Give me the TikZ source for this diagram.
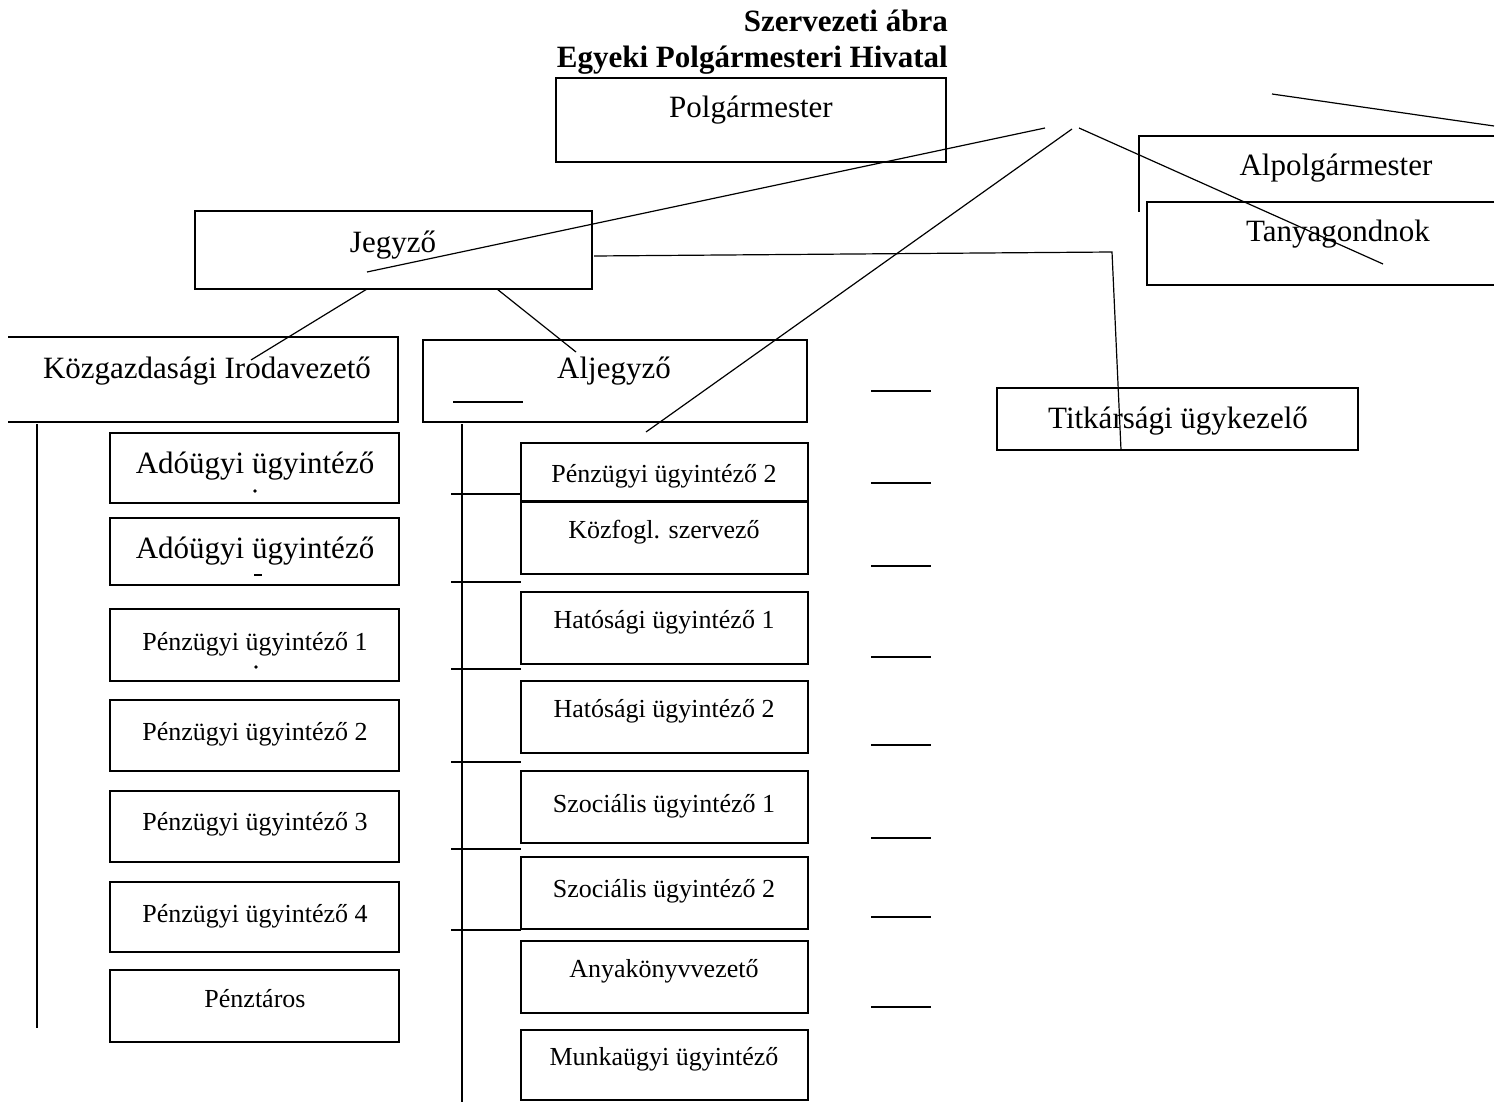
\documentclass[tikz,border=0pt]{standalone}
\usepackage{fontspec}
\setmainfont{Liberation Serif}
\usetikzlibrary{fit}
\begin{document}
\begin{tikzpicture}[x=1pt,y=-1pt,
  box/.style={draw,line width=2pt,inner sep=0pt,outer sep=0pt},
  frame/.style={line width=2pt},
  conn/.style={line width=1.2pt},
  tick/.style={line width=1.6pt},
  big/.style={font=\fontsize{31}{37}\selectfont,anchor=base,inner sep=0pt},
  small/.style={font=\fontsize{26}{31}\selectfont,anchor=base,inner sep=0pt},
  ttl/.style={font=\bfseries\fontsize{31}{37}\selectfont,anchor=base east,inner sep=0pt}]
\useasboundingbox (0,0) rectangle (1502,1102);
\fill[white] (0,0) rectangle (1502,1102);

% titles
\node[ttl] (t1) at (948,32) {Szervezeti ábra};
\node[ttl] (t2) at (948,68) {Egyeki Polgármesteri Hivatal};

% top level
\node[box,fit={(556,78) (946,162)}] (polg) {};
\node[big] (polgT) at (751,118) {Polgármester};

\node[big] (alpolT) at (1336,176) {Alpolgármester};
\draw[frame] (1494,136) -- (1139,136) -- (1139,212);
\node[big] (tanyaT) at (1338,241) {Tanyagondnok};
\draw[frame] (1494,202) -- (1147,202) -- (1147,285) -- (1494,285);

\node[box,fit={(195,211) (592,289)}] (jegyzo) {};
\node[big] (jegyzoT) at (393,252) {Jegyző};

\draw[frame] (8,337) -- (398,337) -- (398,422) -- (8,422);
\node[big] (kozgT) at (207,378) {Közgazdasági Irodavezető};

\node[box,fit={(423,340) (807,422)}] (aljegyzo) {};
\node[big] (aljegyzoT) at (614,378) {Aljegyző};
\draw[tick] (453,402) -- (523,402);

\node[box,fit={(997,388) (1358,450)}] (titk) {};
\node[big] (titkT) at (1178,428) {Titkársági ügykezelő};

% left column
\node[box,fit={(110,433) (399,503)}] (l1) {};
\node[big] at (255,473) {Adóügyi ügyintéző};
\node[box,fit={(110,518) (399,585)}] (l2) {};
\node[big] at (255,558) {Adóügyi ügyintéző};
\node[box,fit={(110,609) (399,681)}] (l3) {};
\node[small] at (255,650) {Pénzügyi ügyintéző 1};
\node[box,fit={(110,700) (399,771)}] (l4) {};
\node[small] at (255,740) {Pénzügyi ügyintéző 2};
\node[box,fit={(110,791) (399,862)}] (l5) {};
\node[small] at (255,830) {Pénzügyi ügyintéző 3};
\node[box,fit={(110,882) (399,952)}] (l6) {};
\node[small] at (255,922) {Pénzügyi ügyintéző 4};
\node[box,fit={(110,970) (399,1042)}] (l7) {};
\node[small] at (255,1007) {Pénztáros};
\fill (255,491) circle (1.8);
\draw[line width=1.5pt] (254,575) -- (262,575);
\fill (256,667) circle (1.8);

% right column
\node[box,fit={(521,443) (808,501)}] (r1) {};
\node[small] at (664,482) {Pénzügyi ügyintéző 2};
\node[box,fit={(521,502) (808,574)}] (r2) {};
\node[small] at (664,538) {Közfogl. szervező};
\node[box,fit={(521,592) (808,664)}] (r3) {};
\node[small] at (664,628) {Hatósági ügyintéző 1};
\node[box,fit={(521,681) (808,753)}] (r4) {};
\node[small] at (664,717) {Hatósági ügyintéző 2};
\node[box,fit={(521,771) (808,843)}] (r5) {};
\node[small] at (664,812) {Szociális ügyintéző 1};
\node[box,fit={(521,857) (808,929)}] (r6) {};
\node[small] at (664,897) {Szociális ügyintéző 2};
\node[box,fit={(521,941) (808,1013)}] (r7) {};
\node[small] at (664,977) {Anyakönyvvezető};
\node[box,fit={(521,1030) (808,1100)}] (r8) {};
\node[small] at (664,1065) {Munkaügyi ügyintéző};

% connectors
\coordinate (apexA) at (1045,128);
\coordinate (apexB) at (1072,129);
\coordinate (apexC) at (1079,128);
\coordinate (jegyIn) at (367,272);
\coordinate (penzTop) at (646,432);
\coordinate (tanyaIn) at (1383,264);
\draw[conn] (apexA) -- (jegyIn);
\draw[conn] (apexB) -- (penzTop);
\draw[conn] (apexC) -- (tanyaIn);
\coordinate (trA) at (1272,94);
\coordinate (trB) at (1494,126);
\draw[conn] (trA) -- (trB);

\coordinate (jt1) at (594,256);
\coordinate (jt2) at (1112,252);
\coordinate (jt3) at (1121,450);
\draw[conn] (jt1) -- (jt2) -- (jt3);

\coordinate (jk1) at (367,289);
\coordinate (jk2) at (251,360);
\draw[conn] (jk1) -- (jk2);
\coordinate (ja1) at (497,289);
\coordinate (ja2) at (576,352);
\draw[conn] (ja1) -- (ja2);

% vertical spines
\coordinate (vl1) at (37,424);
\coordinate (vl2) at (37,1028);
\draw[conn] (vl1) -- (vl2);
\coordinate (vr1) at (462,424);
\coordinate (vr2) at (462,1102);
\draw[conn] (vr1) -- (vr2);

% ticks beside right column
\foreach \yy in {494,582,669,762,849,930}
  \draw[conn] (451,\yy) -- (521,\yy);
\foreach \yy in {391,483,566,657,745,838,917,1007}
  \draw[conn] (871,\yy) -- (931,\yy);
\end{tikzpicture}
\end{document}
